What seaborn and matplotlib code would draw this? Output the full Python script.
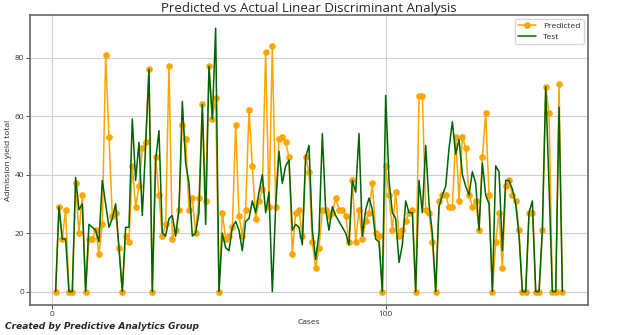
import numpy as np
import pandas as pd
import matplotlib
matplotlib.use("Agg")
import matplotlib.pyplot as plt
import seaborn as sns

cases = list(range(1, 154))

predicted = [
    0, 29, 18, 28, 0, 0, 37, 20, 33, 0,
    18, 18, 21, 13, 23, 81, 53, 26, 27, 15,
    0, 19, 17, 43, 29, 36, 49, 51, 76, 0,
    46, 33, 19, 23, 77, 18, 21, 28, 57, 52,
    28, 32, 20, 32, 64, 31, 77, 59, 66, 0,
    27, 18, 19, 22, 57, 26, 19, 28, 62, 43,
    25, 31, 35, 82, 29, 84, 29, 52, 53, 51,
    46, 13, 27, 28, 19, 46, 41, 17, 8, 15,
    28, 28, 26, 27, 32, 28, 28, 26, 17, 38,
    17, 28, 18, 24, 27, 37, 20, 19, 0, 43,
    33, 21, 34, 19, 21, 24, 27, 28, 0, 67,
    67, 28, 27, 17, 0, 31, 33, 33, 29, 29,
    53, 31, 53, 49, 33, 29, 31, 21, 46, 61,
    33, 0, 17, 27, 8, 36, 38, 33, 31, 21,
    0, 0, 27, 27, 0, 0, 21, 70, 61, 0,
    0, 71, 0,
]

test = [
    0, 29, 18, 18, 0, 0, 39, 28, 30, 0,
    23, 22, 21, 17, 38, 30, 22, 25, 30, 15,
    0, 22, 22, 59, 38, 51, 26, 50, 76, 0,
    45, 55, 20, 19, 25, 26, 19, 28, 65, 44,
    37, 19, 20, 27, 64, 23, 77, 59, 90, 0,
    20, 15, 14, 22, 24, 21, 14, 24, 25, 31,
    27, 34, 40, 27, 34, 0, 29, 48, 37, 43,
    45, 21, 23, 22, 16, 46, 50, 21, 11, 20,
    54, 28, 21, 29, 26, 24, 22, 20, 16, 38,
    34, 54, 19, 28, 32, 28, 18, 17, 0, 67,
    38, 27, 25, 10, 16, 31, 27, 27, 0, 38,
    27, 50, 30, 20, 0, 29, 33, 36, 49, 58,
    47, 52, 40, 36, 33, 41, 37, 21, 44, 33,
    30, 0, 43, 41, 14, 38, 38, 35, 30, 19,
    0, 0, 27, 31, 0, 0, 21, 70, 36, 0,
    0, 63, 0,
]

x_ticks = [0, 100]
y_ticks = [0, 20, 40, 60, 80]

df = pd.DataFrame({"Case": cases, "Predicted": predicted, "Test": test})

sns.set_style("whitegrid")
plt.rcParams["font.family"] = ["Open Sans", "DejaVu Sans"]

fig = plt.figure(figsize=(6.18, 3.35), dpi=100)
ax = fig.add_axes([0.049, 0.09, 0.902, 0.865])

sns.lineplot(data=df, x="Case", y="Predicted", ax=ax, color="#ffa500",
             marker="o", markersize=4.8, markeredgewidth=0, linewidth=1.1,
             label="Predicted")
sns.lineplot(data=df, x="Case", y="Test", ax=ax, color="darkgreen",
             linewidth=1.1, label="Test")

ax.set_xticks(x_ticks)
ax.set_yticks(y_ticks)
ax.tick_params(axis="both", labelsize=6, length=3, width=0.6, colors="#333333",
               left=True, bottom=True, pad=1.5)
ax.grid(True, color="#d0d0d0", linewidth=0.8)
for s in ax.spines.values():
    s.set_color("#666666")
    s.set_linewidth(1.2)

ax.set_title("Predicted vs Actual Linear Discriminant Analysis", fontsize=9.5, pad=2)
ax.set_xlabel("Cases", fontsize=6, labelpad=1)
ax.set_ylabel("Admission yield total", fontsize=6, labelpad=2)

leg = ax.legend(loc="upper right", fontsize=6, frameon=True, borderpad=0.4,
                handlelength=2.2, labelspacing=0.3)
leg.get_frame().set_edgecolor("#cccccc")

fig.text(0.008, 0.012, "Created by Predictive Analytics Group", fontsize=6.5,
         fontweight="bold", fontstyle="italic", ha="left", va="bottom",
         family=["DejaVu Sans"])

fig.savefig("out.png", dpi=100, facecolor="white")
